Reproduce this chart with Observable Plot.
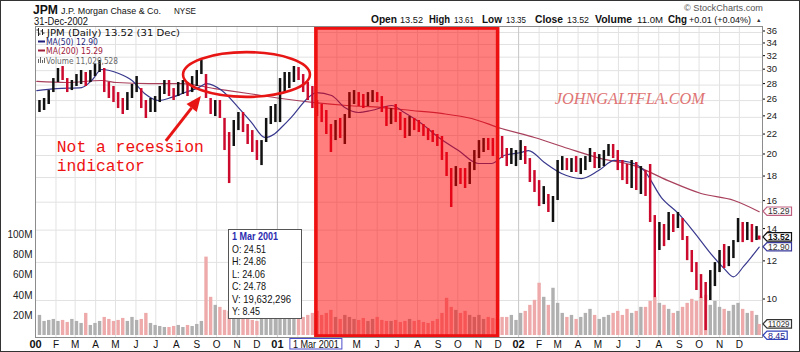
<!DOCTYPE html>
<html><head><meta charset="utf-8">
<script src="https://cdn.jsdelivr.net/npm/d3@7"></script>
<script src="https://cdn.jsdelivr.net/npm/@observablehq/plot@0.6"></script>
<style>
html,body{margin:0;padding:0;background:#fff;}
#wrap{position:relative;width:800px;height:352px;overflow:hidden;background:#fff;}
#wrap > svg{position:absolute;left:0;top:0;}
</style></head><body><div id="wrap"></div>
<script>
// ---------- DATA (weekly samples) ----------
const firstWeekEnd = "2000-01-07";
const lastSession = "2002-12-31";

const high = [
26.01,26.26,27.28,28.89,30.31,30.60,28.89,28.62,29.45,30.02,
29.74,30.02,30.89,31.49,30.31,28.35,27.81,27.02,26.26,27.02,
28.08,29.17,27.54,26.01,26.26,26.51,27.81,28.62,28.62,27.54,
28.35,28.62,28.35,29.17,30.02,31.49,29.45,26.26,26.01,26.01,
23.87,22.32,23.64,24.56,24.56,23.19,22.53,21.48,21.48,23.87,
25.28,25.52,28.89,29.74,29.74,30.60,30.45,29.45,28.35,27.81,
26.01,25.52,24.80,23.19,23.64,23.87,24.33,27.02,27.28,27.02,
26.77,27.02,27.28,27.02,26.51,25.28,25.03,25.52,24.56,23.87,
24.09,23.87,23.64,23.19,22.75,22.53,22.11,21.90,20.29,18.79,
18.97,18.79,18.79,19.34,20.48,21.48,21.69,21.69,21.69,21.90,
21.90,20.68,20.68,20.48,21.48,20.88,19.71,18.61,17.74,17.24,
16.60,16.44,19.53,19.90,19.71,19.71,19.90,19.71,19.90,20.68,
20.29,20.09,20.48,21.08,21.08,20.48,19.53,19.16,19.53,19.34,
18.97,18.61,19.16,15.01,14.52,14.38,15.23,15.08,15.23,14.80,
13.58,12.70,11.99,11.32,10.90,11.54,11.99,12.70,13.07,12.94,
13.32,14.80,14.52,14.52,14.38,14.24,13.61];

const low = [
24.56,24.80,25.52,27.02,28.35,28.62,27.02,27.28,27.81,28.08,
27.81,28.35,29.17,29.74,27.02,26.26,25.76,25.03,24.33,24.80,
26.26,27.02,25.03,23.87,24.56,24.56,25.76,26.77,26.51,26.01,
26.51,26.77,26.51,27.02,27.81,29.45,26.26,24.33,24.09,23.87,
20.48,17.49,20.88,22.53,22.32,21.08,20.29,19.53,19.06,21.28,
23.19,23.41,23.41,27.02,27.54,28.35,28.62,27.02,26.01,25.03,
24.09,23.41,22.11,20.29,21.48,21.69,21.08,23.87,25.52,25.28,
25.03,25.28,25.76,25.76,24.56,22.97,23.19,23.41,22.53,21.69,
21.90,22.53,22.32,21.90,21.48,21.28,20.88,19.53,18.09,15.60,
17.24,17.41,17.08,17.41,18.61,19.71,20.29,20.48,19.90,19.53,
19.71,18.97,19.16,18.97,19.53,19.16,17.58,16.76,15.67,15.82,
15.23,14.52,16.13,18.61,18.61,18.44,18.44,18.26,18.61,19.34,
18.79,18.79,18.97,19.90,19.71,18.61,17.74,17.41,17.08,16.92,
16.60,16.44,14.52,10.14,12.70,12.94,13.32,13.84,14.11,13.32,
12.10,11.43,10.49,10.10,8.66,10.00,10.69,11.43,11.65,11.76,
12.22,13.19,13.19,13.32,13.19,13.32,13.35];

const close = [
25.40,25.76,26.90,28.35,29.74,28.89,27.54,28.08,28.89,29.17,
28.62,29.45,30.31,30.60,27.54,27.28,26.26,25.52,24.80,26.51,
27.54,28.62,25.52,24.56,25.28,26.01,27.28,28.08,27.02,26.77,
27.81,28.08,27.28,28.62,29.45,30.89,26.77,25.03,25.28,24.33,
21.48,20.88,23.19,24.09,22.75,21.69,20.68,20.48,20.88,23.19,
24.80,25.03,28.08,28.89,29.17,30.02,29.45,28.08,26.77,25.52,
24.80,24.33,22.75,21.48,22.97,22.11,23.87,26.26,26.51,26.26,
25.52,26.26,26.51,26.26,25.03,23.87,24.56,24.09,23.19,22.11,
23.41,23.19,22.97,22.32,22.11,21.69,21.48,19.90,18.61,17.24,
18.44,17.91,17.74,18.79,20.09,20.88,21.28,21.08,20.68,21.08,
20.48,19.53,19.90,19.90,20.88,19.53,18.09,17.41,16.44,16.76,
15.67,16.13,18.79,19.53,19.16,19.34,19.16,19.34,19.53,20.29,
19.34,19.53,20.09,20.68,20.48,18.97,18.26,17.91,18.97,17.41,
18.09,16.92,14.94,13.45,13.84,13.32,14.80,14.52,14.80,13.58,
12.46,11.76,11.00,10.49,10.00,11.11,11.65,12.22,11.99,12.70,
13.07,14.38,13.58,13.97,13.58,13.84,13.52];

// volume in millions of shares
const volumeM = [
20,14,15,16,14,15,13,16,14,12,
22,10,12,14,18,16,14,15,17,14,
18,15,16,22,12,10,9,8,8,9,
10,8,10,9,11,14,78,38,30,28,
25,24,20,18,16,17,15,14,16,18,
22,24,26,20,18,22,25,18,20,22,
24,20,22,25,18,16,20,18,16,15,
17,14,16,18,15,14,14,15,13,14,
16,14,15,13,12,14,16,22,37,28,
25,22,24,20,18,20,16,18,17,16,
18,18,20,15,22,24,30,35,52,38,
30,47,32,22,18,20,16,18,22,26,
20,16,18,20,22,24,20,26,22,24,
28,28,34,38,32,30,26,22,24,28,
32,36,34,38,40,30,34,28,26,24,
30,32,26,22,24,20,11];

const ma50Dates = ["2000-01-03","2000-02-02","2000-03-11","2000-03-26","2000-04-10","2000-05-06","2000-05-26","2000-06-14","2000-07-05","2000-07-25","2000-08-14","2000-09-04","2000-09-16","2000-10-09","2000-11-03","2000-11-23","2000-12-13","2000-12-28",
"2001-01-07","2001-01-22","2001-02-17","2001-03-01","2001-03-24","2001-04-13","2001-05-04","2001-05-23","2001-06-23","2001-07-12","2001-08-07","2001-09-02","2001-10-02","2001-11-01","2001-11-21","2001-12-10",
"2002-01-05","2002-01-16","2002-02-09","2002-03-07","2002-04-06","2002-05-02","2002-05-26","2002-06-20","2002-07-10","2002-08-05","2002-08-31","2002-09-24","2002-10-19","2002-11-08","2002-11-22","2002-12-08","2002-12-23","2002-12-31"];
const ma50 = [27.28,27.54,27.67,28.62,30.17,29.60,28.62,26.90,26.01,26.40,27.02,27.67,28.20,27.28,25.15,23.41,21.80,22.20,
22.86,24.00,26.40,27.02,26.64,25.15,24.56,24.80,25.40,24.56,23.30,21.80,20.48,19.25,19.25,20.00,
20.29,20.48,19.34,18.35,17.91,18.61,19.53,19.34,18.61,16.36,15.15,13.84,12.50,11.65,11.20,11.80,12.50,12.90];

const ma200Dates = ["2000-01-03","2000-02-17","2000-04-10","2000-05-03","2000-06-20","2000-08-09","2000-09-28","2000-11-18","2001-01-07","2001-02-26","2001-04-16","2001-06-08","2001-07-23","2001-09-06","2001-10-22","2001-12-06","2002-01-25","2002-03-17","2002-05-06","2002-06-25","2002-08-15","2002-10-04","2002-11-23","2002-12-31"];
const ma200 = [28.50,28.35,28.62,28.35,28.20,28.20,27.54,26.90,26.26,25.76,25.40,25.15,24.80,24.45,23.87,22.75,21.80,20.68,19.71,19.06,17.74,16.68,16.13,15.29];

const priceTicks = [10,12,14,16,18,20,22,24,26,28,30,32,34,36];
const volumeTicks = [20e6,40e6,60e6,80e6,100e6];
const volumeTickLabels = ["20M","40M","60M","80M","100M"];
const monthLetters = ["J","F","M","A","M","J","J","A","S","O","N","D"];
const yearLabels = ["00","01","02"];
// month labels hidden behind the cursor date box
const hiddenMonthLabels = ["2001-02","2001-03","2001-04"];

const recessionStart = "2001-03-01";
const recessionEnd = "2001-12-01";

// ---------- BUILD ----------
const parse = d3.utcParse("%Y-%m-%d");
const ym = d3.utcFormat("%Y-%m");
const dates = d3.range(high.length - 1).map(i => d3.utcDay.offset(parse(firstWeekEnd), 7 * i)).concat([parse(lastSession)]);
const rows = dates.map((date, i) => ({date, high: high[i], low: low[i], close: close[i], vol: volumeM[i] * 1e6, up: i === 0 || close[i] >= close[i - 1]}));
const ma50Rows = ma50Dates.map((d, i) => ({date: parse(d), v: ma50[i]}));
const ma200Rows = ma200Dates.map((d, i) => ({date: parse(d), v: ma200[i]}));

const xDomain = [parse("2000-01-01"), parse("2003-01-05")];
const yDomain = [8.38, 37.05];
const months = d3.utcMonth.range(parse("2000-01-01"), parse("2003-01-01"));
const monthOnly = months.filter(d => d.getUTCMonth() !== 0);
const monthLabelled = monthOnly.filter(d => !hiddenMonthLabels.includes(ym(d)));
const years = months.filter(d => d.getUTCMonth() === 0);

const base = {
  width: 800, height: 352, marginLeft: 35, marginRight: 38, marginTop: 26, marginBottom: 15,
  x: {type: "utc", domain: xDomain, axis: null, label: null},
  color: {type: "identity"},
  style: {background: "transparent", fontFamily: "'Liberation Sans', Arial, sans-serif", fontSize: "10px", overflow: "visible"}
};

const gridPlot = Plot.plot({...base,
  y: {type: "log", domain: yDomain, axis: null, label: null},
  marks: [
    Plot.ruleY(priceTicks, {stroke: "#e2e2e2"}),
    Plot.ruleX(monthOnly, {stroke: "#e2e2e2"}),
    Plot.ruleX(years, {stroke: "#c6c6c6"})
  ]});

const volPlot = Plot.plot({...base,
  y: {domain: [0, 100e6], range: [335, 234.5], axis: null, label: null},
  marks: [
    Plot.ruleX(rows, {x: "date", y1: 0, y2: "vol", stroke: d => d.up ? "#b0b0b0" : "#eeaaaa", strokeWidth: 3.4}),
    Plot.axisY(volumeTicks, {anchor: "left", tickSize: 0, tickPadding: 3, label: null, fontSize: 10, fill: "#222",
      tickFormat: d => volumeTickLabels[volumeTicks.indexOf(d)]})
  ]});

const pricePlot = Plot.plot({...base,
  y: {type: "log", domain: yDomain, axis: null, label: null},
  marks: [
    Plot.line(ma200Rows, {x: "date", y: "v", stroke: "#a8405c", strokeWidth: 1.2, curve: "monotone-x"}),
    Plot.line(ma50Rows, {x: "date", y: "v", stroke: "#38388e", strokeWidth: 1.2, curve: "monotone-x"}),
    Plot.ruleX(rows, {x: "date", y1: "low", y2: "high", stroke: d => d.up ? "#111111" : "#cc0a2e", strokeWidth: 2.5}),
    Plot.rect([0], {x1: () => parse(recessionStart), x2: () => parse(recessionEnd), y1: () => yDomain[0], y2: () => yDomain[1],
      fill: "#ff0000", fillOpacity: 0.5, stroke: "#ee1111", strokeWidth: 3.6, insetTop: 2, insetBottom: 1}),
    Plot.frame({stroke: "#8c8c8c"}),
    Plot.axisY(priceTicks, {anchor: "right", tickSize: 2, tickPadding: 2, dy: -1.5, label: null, fontSize: 9.5, fill: "#222", tickFormat: d => String(d)}),
    Plot.axisX(monthLabelled, {anchor: "bottom", tickSize: 0, tickPadding: 3, label: null, fontSize: 10, fill: "#111",
      tickFormat: d => monthLetters[d.getUTCMonth()]}),
    Plot.axisX(years, {anchor: "bottom", tickSize: 0, tickPadding: 3, label: null, fontSize: 11, fontWeight: "bold", fill: "#111",
      tickFormat: d => yearLabels[d.getUTCFullYear() - 2000]})
  ]});

const wrap = document.getElementById("wrap");
wrap.appendChild(gridPlot);
wrap.appendChild(volPlot);
wrap.appendChild(pricePlot);

// ---------- OVERLAY (texts, annotations) ----------
const X = d => pricePlot.scale("x").apply(d);
const Y = p => pricePlot.scale("y").apply(p);
const VY = v => volPlot.scale("y").apply(v);

const ov = d3.select(wrap).append("svg").attr("width", 800).attr("height", 352)
  .style("font-family", "'Liberation Sans', Arial, sans-serif");

function T(g, x, y, s, o = {}) {
  const t = g.append("text").attr("x", x).attr("y", y).text(s)
    .attr("font-size", o.size || 10).attr("fill", o.fill || "#111");
  if (o.weight) t.attr("font-weight", o.weight);
  if (o.family) t.attr("font-family", o.family);
  if (o.style) t.attr("font-style", o.style);
  if (o.anchor) t.attr("text-anchor", o.anchor);
  if (o.len) t.attr("textLength", o.len).attr("lengthAdjust", "spacingAndGlyphs");
  return t;
}

// header
T(ov, 33, 13.5, "JPM", {size: 13, weight: "bold", len: 25});
T(ov, 61, 13.5, "J.P. Morgan Chase & Co.", {size: 9.5, len: 100});
T(ov, 174, 13.5, "NYSE", {size: 8.5, len: 22});
T(ov, 34, 24.5, "31-Dec-2002", {size: 10, len: 54});
T(ov, 684, 10.5, "\u00A9 StockCharts.com", {size: 9.5, fill: "#555", len: 79});
const statLine = [
  [371, "Open", true, 26], [400, "13.52", false, 23], [429, "High", true, 21], [454, "13.61", false, 20],
  [482, "Low", true, 20], [506, "13.35", false, 20], [535, "Close", true, 28], [567, "13.52", false, 22],
  [595, "Volume", true, 37], [637, "11.0M", false, 26], [668, "Chg", true, 19], [689, "+0.01 (+0.04%)", false, 62]
];
statLine.forEach(([x, s, b, len]) => T(ov, x, 23, s, {size: b ? 10.5 : 9, weight: b ? "bold" : null, len}));
T(ov, 756, 21.5, "\u25B2", {size: 5.5, fill: "#333"});

// legend in plot
const lg = ov.append("g");
const lf = "'DejaVu Sans', sans-serif";
lg.append("path").attr("d", "M38.5,28 V36 M36.5,30 H38.5 M38.5,34 H40.5 M42.5,29 V35 M40.5,31 H42.5 M42.5,33 H44.5").attr("stroke", "#222").attr("fill", "none");
T(lg, 47, 35.5, "JPM (Daily) 13.52 (31 Dec)", {size: 8.5, len: 133, family: lf});
lg.append("line").attr("x1", 38).attr("x2", 45).attr("y1", 41.5).attr("y2", 41.5).attr("stroke", "#1f1f7a").attr("stroke-width", 2);
T(lg, 46, 45, "MA(50) 12.90", {size: 8, len: 52, fill: "#1f1f7a", family: lf});
lg.append("line").attr("x1", 38).attr("x2", 45).attr("y1", 50.5).attr("y2", 50.5).attr("stroke", "#a0203c").attr("stroke-width", 2);
T(lg, 46, 54.2, "MA(200) 15.29", {size: 8, len: 57, fill: "#a0203c", family: lf});
lg.append("path").attr("d", "M38.5,63 V59 M40.5,63 V57 M42.5,63 V60 M44.5,63 V58").attr("stroke", "#666").attr("fill", "none");
T(lg, 46, 63.5, "Volume 11,029,528", {size: 8, len: 72, fill: "#666", family: lf});

// annotations anchored to data
const ell = {x1: parse("2000-08-12"), x2: parse("2001-02-20"), top: 32.7, bottom: 26.4};
ov.append("ellipse")
  .attr("cx", (X(ell.x1) + X(ell.x2)) / 2).attr("cy", (Y(ell.top) + Y(ell.bottom)) / 2)
  .attr("rx", (X(ell.x2) - X(ell.x1)) / 2).attr("ry", (Y(ell.bottom) - Y(ell.top)) / 2)
  .attr("fill", "none").attr("stroke", "#e81515").attr("stroke-width", 2.6);

const tail = [X(parse("2000-07-17")), Y(21.4)], tip = [X(parse("2000-09-08")), Y(26.5)];
{
  const dx = tip[0] - tail[0], dy = tip[1] - tail[1], L = Math.hypot(dx, dy), ux = dx / L, uy = dy / L, nx = -uy, ny = ux;
  const hb = [tip[0] - 15 * ux, tip[1] - 15 * uy];
  ov.append("line").attr("x1", tail[0]).attr("y1", tail[1]).attr("x2", hb[0]).attr("y2", hb[1])
    .attr("stroke", "#e81515").attr("stroke-width", 3);
  ov.append("path").attr("d", `M${tip[0]},${tip[1]} L${hb[0] + 6.5 * nx},${hb[1] + 6.5 * ny} L${hb[0] - 6.5 * nx},${hb[1] - 6.5 * ny} Z`)
    .attr("fill", "#e81515");
}
T(ov, X(parse("2000-02-03")), Y(20.3), "Not a recession", {size: 16, family: "'Liberation Mono', 'Courier New', monospace", fill: "#ee1111", len: 147});
T(ov, X(parse("2000-02-03")), Y(18.5), "indicator", {size: 16, family: "'Liberation Mono', 'Courier New', monospace", fill: "#ee1111", len: 88});

T(ov, X(parse("2002-06-19")), Y(25.5), "JOHNGALTFLA.COM", {size: 16, family: "'Liberation Serif', serif", style: "italic", fill: "#e07474", anchor: "middle", len: 150});

// tooltip box
const tb = ov.append("g");
tb.append("rect").attr("x", 228.5).attr("y", 229.5).attr("width", 73).attr("height", 89).attr("fill", "#fff").attr("stroke", "#555");
T(tb, 232, 240, "1 Mar 2001", {size: 10.5, weight: "bold", fill: "#2b2bb0", len: 46});
[["O: 24.51", 34], ["H: 24.86", 34], ["L: 24.06", 33], ["C: 24.78", 34], ["V: 19,632,296", 59], ["Y: 8.45", 28]]
  .forEach(([s, len], i) => T(tb, 232, 253 + i * 12.4, s, {size: 10.5, fill: "#111", len}));

// cursor date label on x axis
const cx = X(parse(recessionStart));
ov.append("rect").attr("x", cx - 26).attr("y", 338.5).attr("width", 52).attr("height", 10.5).attr("fill", "#fff").attr("stroke", "#4b4bcc");
T(ov, cx, 347.5, "1 Mar 2001", {size: 10, anchor: "middle", len: 46});

// right axis value tags
function tag(y, label, stroke, fill, bold) {
  const x0 = 763, w = label.length * 4.3 + 3;
  ov.append("path").attr("d", `M${x0},${y} L${x0 + 4},${y - 4.2} H${x0 + 4 + w} V${y + 4.2} H${x0 + 4} Z`)
    .attr("fill", "#fff").attr("stroke", stroke).attr("stroke-width", 1.2);
  T(ov, x0 + 5, y + 3.3, label, {size: 8.5, weight: bold ? "bold" : null, fill, len: w - 3});
}
tag(Y(15.29), "15.29", "#c06080", "#333", false);
tag(Y(13.52), "13.52", "#111", "#111", true);
tag(Y(12.90), "12.90", "#3a3a9a", "#333", false);
tag(VY(11029528), "11029", "#333", "#333", false);
tag(Y(8.45), "8.45", "#3344bb", "#22228a", false);

// outer border
ov.append("rect").attr("x", 0.5).attr("y", 0.5).attr("width", 799).attr("height", 351).attr("fill", "none").attr("stroke", "#333");
</script></body></html>
